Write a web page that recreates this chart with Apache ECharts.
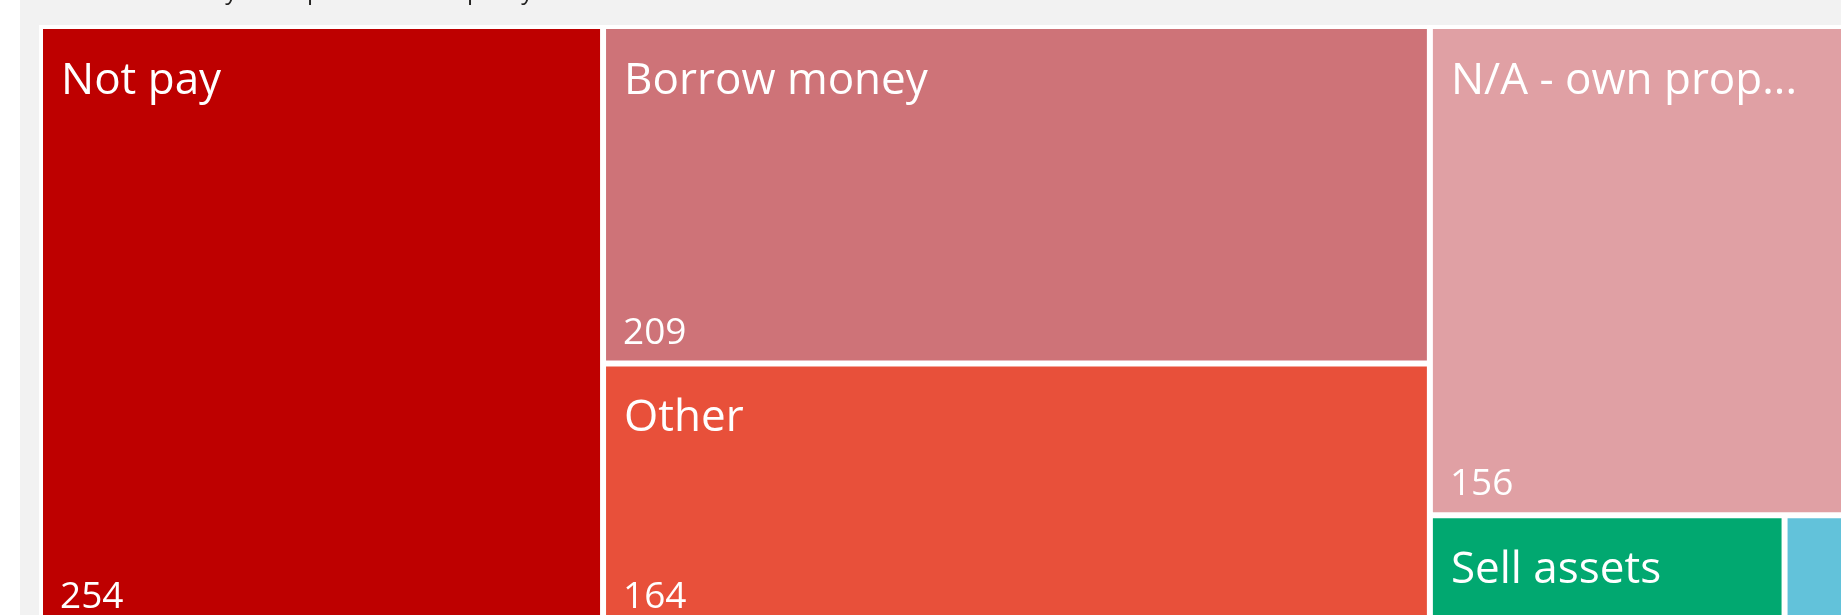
<!DOCTYPE html>
<html>
<head>
<meta charset="utf-8">
<title>Treemap</title>
<script src="https://cdn.jsdelivr.net/npm/echarts@6/dist/echarts.min.js"></script>
<style>
  html, body { margin: 0; padding: 0; background: #fff; }
  #chart { position: absolute; left: 20px; top: 0; width: 1821px; height: 615px; }
</style>
</head>
<body>
<div id="chart"></div>
<script>
// categories and counts
const categories = ['Not pay', 'Borrow money', 'Other', 'N/A - own property', 'Sell assets', 'Use savings'];
const counts = [254, 209, 164, 156, 30, 6];
const colors = ['#be0000', '#ce7378', '#e8503a', '#e0a0a4', '#01a870', '#62c2da'];

// tiles too small for the labels
const hideName = ['Use savings'];
const hideValue = ['Sell assets', 'Use savings'];

const font = 'Open Sans';

const chart = echarts.init(document.getElementById('chart'));

// tiles + names
const nameData = categories.map((name, i) => ({
  name: name,
  value: counts[i],
  itemStyle: { color: colors[i] },
  label: { show: hideName.indexOf(name) < 0 }
}));

// same layout, transparent, values
const valueData = categories.map((name, i) => ({
  name: name,
  value: counts[i],
  label: { show: hideValue.indexOf(name) < 0 }
}));

const box = { left: 19, top: 25, width: 1817.5, height: 604.3 };

chart.setOption({
  backgroundColor: '#f2f2f2',
  animation: false,
  title: {
    text: 'Survey of responses and capacity',
    left: 137,
    top: -25,
    textStyle: { fontFamily: font, fontSize: 24, fontWeight: 400, color: '#252423' }
  },
  series: [
    {
      type: 'treemap',
      ...box,
      roam: false,
      nodeClick: false,
      breadcrumb: { show: false },
      silent: true,
      levels: [
        { itemStyle: { borderColor: '#fff', borderWidth: 4, gapWidth: 6 } },
        { itemStyle: { borderWidth: 0, gapWidth: 0 } }
      ],
      label: {
        show: true,
        position: 'insideTopLeft',
        formatter: '{b}',
        color: '#fff',
        fontFamily: font,
        fontSize: 44,
        fontWeight: 400,
        padding: [30, 44, 0, 18]
      },
      data: nameData
    },
    {
      type: 'treemap',
      ...box,
      roam: false,
      nodeClick: false,
      breadcrumb: { show: false },
      silent: true,
      levels: [
        { itemStyle: { borderColor: 'rgba(0,0,0,0)', borderWidth: 4, gapWidth: 6 } },
        { itemStyle: { borderWidth: 0, gapWidth: 0, color: 'rgba(0,0,0,0)' } }
      ],
      label: {
        show: true,
        position: 'insideBottomLeft',
        formatter: '{c}',
        color: '#fff',
        fontFamily: font,
        fontSize: 37,
        fontWeight: 400,
        padding: [0, 0, 9, 17]
      },
      data: valueData
    }
  ]
});
</script>
</body>
</html>
